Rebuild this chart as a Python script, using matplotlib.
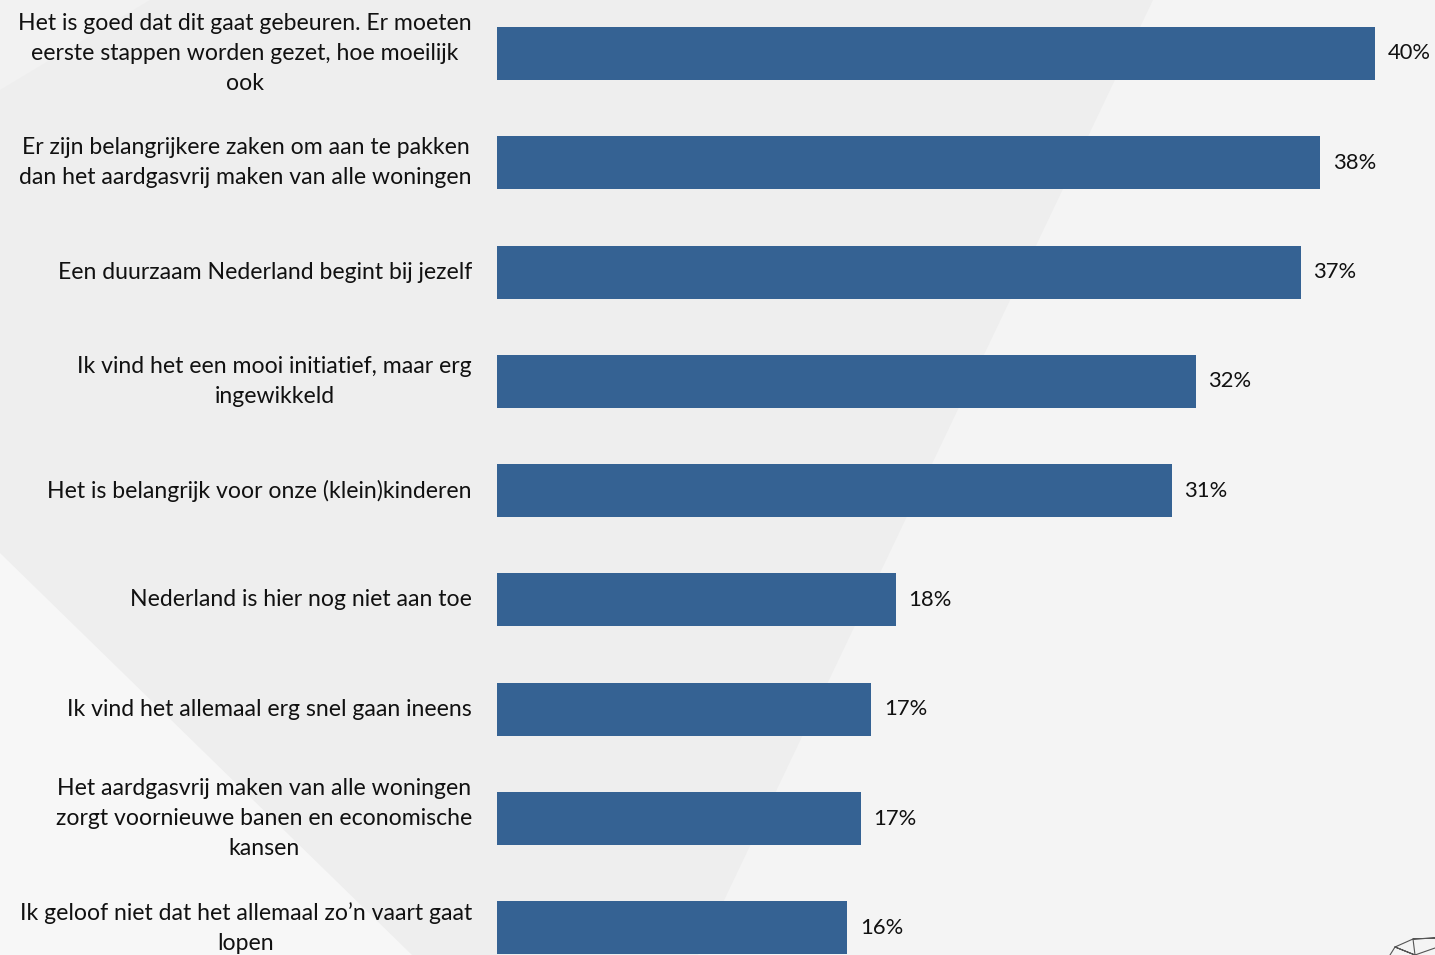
import matplotlib
matplotlib.use("Agg")
import matplotlib.pyplot as plt
from matplotlib.patches import Polygon


# ================================
# Data
# ================================

statements = [
    "Het is goed dat dit gaat gebeuren. Er moeten\neerste stappen worden gezet, hoe moeilijk\nook",
    "Er zijn belangrijkere zaken om aan te pakken\ndan het aardgasvrij maken van alle woningen",
    "Een duurzaam Nederland begint bij jezelf",
    "Ik vind het een mooi initiatief, maar erg\ningewikkeld",
    "Het is belangrijk voor onze (klein)kinderen",
    "Nederland is hier nog niet aan toe",
    "Ik vind het allemaal erg snel gaan ineens",
    "Het aardgasvrij maken van alle woningen\nzorgt voornieuwe banen en economische\nkansen",
    "Ik geloof niet dat het allemaal zo\u2019n vaart gaat\nlopen",
]
shares = [40.1, 37.6, 36.7, 31.9, 30.8, 18.2, 17.1, 16.6, 16.0]
share_labels = [f"{v:.0f}%" for v in shares]

bar_color = "#356293"
plt.rcParams['font.family'] = ['Lato', 'DejaVu Sans']


# ================================
# Figure + background shapes
# ================================

W, H = 1435, 955
fig = plt.figure(figsize=(W / 100, H / 100), dpi=100, facecolor="#EEEEEE")

bg = fig.add_axes([0, 0, 1, 1], zorder=0)
bg.set_xlim(0, W)
bg.set_ylim(H, 0)
bg.axis("off")
bg.add_patch(Polygon([(1153, 0), (W, 0), (W, H), (698, H)], closed=True,
                     facecolor="#F4F4F4", edgecolor="none"))
bg.add_patch(Polygon([(0, 553), (0, H), (412, H)], closed=True,
                     facecolor="#F7F7F7", edgecolor="none"))
bg.add_patch(Polygon([(0, 0), (150, 0), (0, 90)], closed=True,
                     facecolor="#F2F2F2", edgecolor="none"))
# small wireframe logo, bottom right corner
icon = [(1390, 955), (1395, 947), (1413, 939), (1435, 938),
        (1413, 939), (1415, 955), (1395, 947), (1415, 955), (1435, 948)]
bg.plot([p[0] for p in icon], [p[1] for p in icon], color="#555555", lw=0.8)


# ================================
# Bars
# ================================

ax = fig.add_axes([497 / W, 0, 1 - 497 / W, 1], zorder=1)
ax.patch.set_alpha(0)

ypos = list(range(len(shares)))
bars = ax.barh(ypos, shares, height=0.485, color=bar_color)

ax.set_xlim(0, (W - 497) / 21.9)
ax.set_ylim(8.248, -0.489)

ax.set_yticks(ypos)
ax.set_yticklabels(statements, fontsize=16.6, color="#111111", linespacing=1.53)
for t in ax.get_yticklabels():
    t.set_multialignment("center")
    t.set_verticalalignment("center")
ax.tick_params(axis="y", length=0, pad=18)
ax.set_xticks([])
for s in ax.spines.values():
    s.set_visible(False)

ax.bar_label(bars, labels=share_labels, padding=9, fontsize=15.8, color="#111111")

plt.savefig("out.png", dpi=100, facecolor=fig.get_facecolor())
